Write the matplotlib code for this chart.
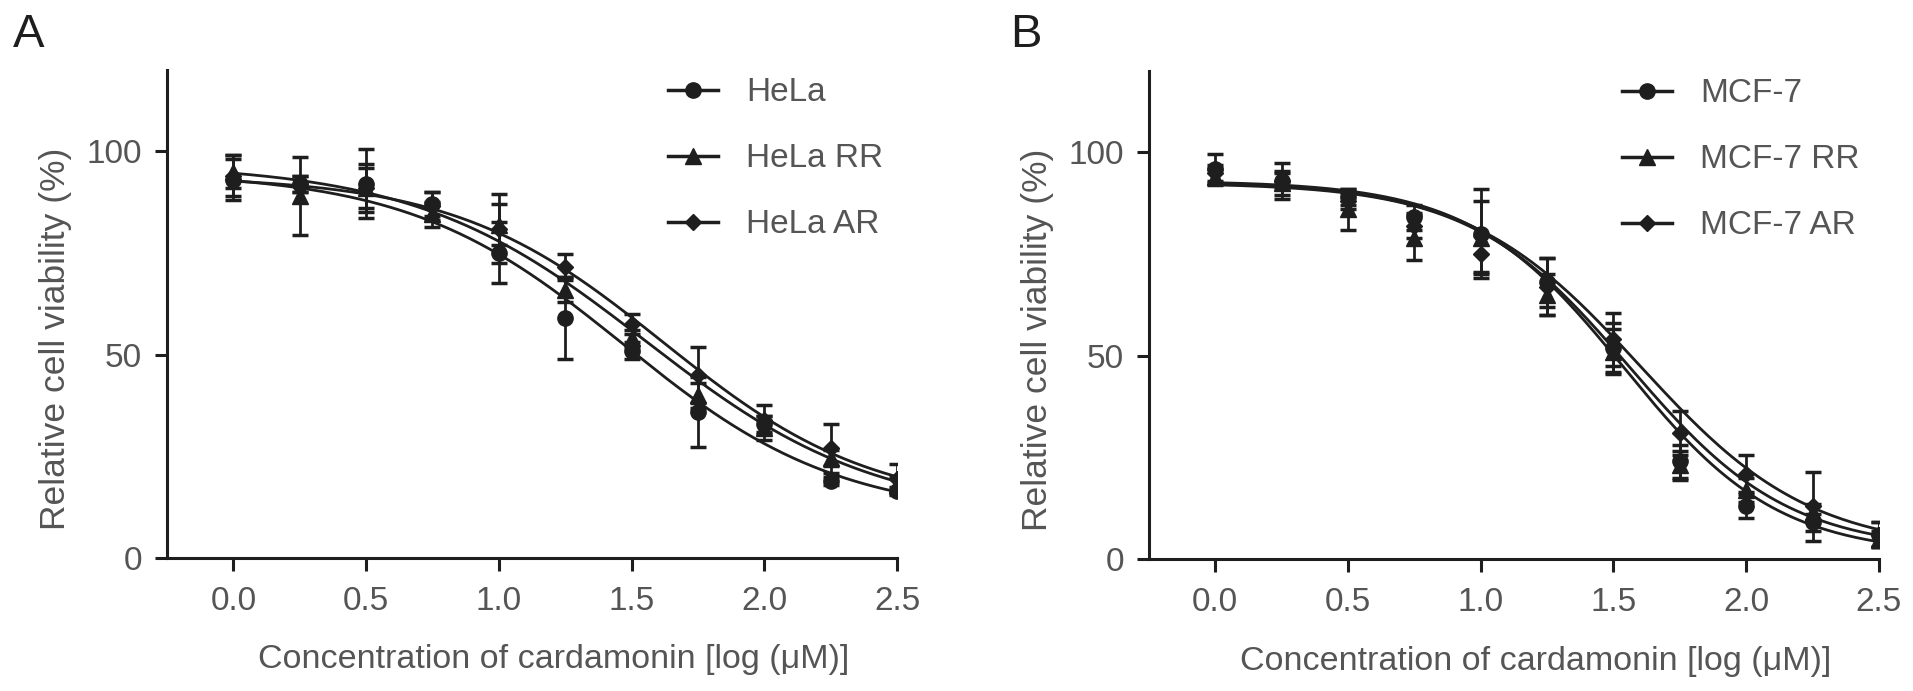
import numpy as np
import matplotlib
matplotlib.use("Agg")
import matplotlib.pyplot as plt

plt.rcParams['font.family'] = ['Liberation Sans', 'DejaVu Sans']

# log concentration of cardamonin
log_conc = [0.0, 0.25, 0.5, 0.75, 1.0, 1.25, 1.5, 1.75, 2.0, 2.25, 2.5]

# panel A - HeLa lines (mean, SD)
hela = [93, 92, 92, 87, 75, 59, 51, 36, 33, 19, 16.5]
hela_sd = [5, 2, 8.5, 3, 7.5, 10, 2, 8.6, 2, 1, 1]
hela_rr = [95, 89, 91, 84.5, 82, 66, 54, 40, 32, 24.5, 18]
hela_rr_sd = [4, 9.5, 5, 3, 5, 3, 2, 3, 3, 2, 2]
hela_ar = [94, 92, 91, 86.5, 81, 71.5, 57.5, 45, 34, 27, 19.5]
hela_ar_sd = [5, 2, 6, 3.5, 8.5, 3.2, 2.5, 7, 3.5, 6, 3.5]

# panel B - MCF-7 lines (mean, SD)
mcf7 = [96, 93, 89, 84, 80, 68, 52, 24, 13, 9, 6]
mcf7_sd = [3.5, 4.5, 2, 3, 11, 6, 6, 4, 3, 2, 3]
mcf7_rr = [94, 92.5, 86, 79, 79, 65, 51, 23, 17, 11.5, 5]
mcf7_rr_sd = [2, 3, 5, 5.5, 9, 5, 5.5, 3.5, 3, 2, 2]
mcf7_ar = [95, 93, 88, 82, 75, 67, 54, 31, 21, 13, 6]
mcf7_ar_sd = [2, 2, 2, 3, 4.5, 7, 6.5, 5.5, 4.5, 8.5, 3]

# fitted dose-response curves: top, bottom, logIC50, hill slope
hela_fit = [95, 10, 1.47, 1.07]
hela_rr_fit = [97, 10, 1.55, 1.0]
hela_ar_fit = [94, 12, 1.62, 1.1]
mcf7_fit = [93, 1, 1.54, 1.5]
mcf7_rr_fit = [92.5, 2, 1.56, 1.45]
mcf7_ar_fit = [93, 2, 1.60, 1.35]

ink = '#1e1e1e'
grey = '#555555'


def dose_curve(x, fit):
    top, bottom, ic50, hill = fit
    return bottom + (top - bottom) / (1 + 10 ** ((x - ic50) * hill))


def draw_panel(ax, names, means, sds, fits, legend_x):
    markers = ['o', '^', 'D']
    msizes = [11, 11, 8]
    xs = np.linspace(0, 2.5, 200)
    for name, m, sd, fit, mk, ms in zip(names, means, sds, fits, markers, msizes):
        ax.errorbar(log_conc, m, yerr=sd, fmt=mk, ms=ms, color=ink,
                    ecolor=ink, elinewidth=2, capsize=6, capthick=2.5, zorder=3)
        ax.plot(xs, dose_curve(xs, fit), color=ink, lw=2, zorder=2)
        # legend proxy
        ax.plot([], [], color=ink, lw=2.5, marker=mk, ms=ms, label=name)

    ax.set_xlim(-0.25, 2.5)
    ax.set_ylim(0, 120)
    ax.set_xticks([0, 0.5, 1.0, 1.5, 2.0, 2.5])
    ax.set_xticklabels(['0.0', '0.5', '1.0', '1.5', '2.0', '2.5'])
    ax.set_yticks([0, 50, 100])
    for s in ['top', 'right']:
        ax.spines[s].set_visible(False)
    for s in ['left', 'bottom']:
        ax.spines[s].set_linewidth(2.2)
        ax.spines[s].set_color(ink)
    ax.tick_params(direction='out', length=9, width=2.2, color=ink,
                   labelsize=24, labelcolor=grey, pad=9)
    ax.tick_params(axis='x', pad=11)
    ax.set_xlabel('Concentration of cardamonin [log (\u03bcM)]', fontsize=24.5,
                  color=grey, va='center')
    ax.xaxis.set_label_coords(0.53, -0.209)
    ax.set_ylabel('Relative cell viability (%)', fontsize=25.5, color=grey,
                  va='center')
    ax.yaxis.set_label_coords(-0.153, 0.45)
    ax.legend(loc='upper left', bbox_to_anchor=(legend_x, 0.985),
              frameon=False, fontsize=24, labelcolor=grey, handlelength=1.5,
              handletextpad=0.85, labelspacing=1.05, borderaxespad=0,
              borderpad=0)


fig = plt.figure(figsize=(19.13, 6.91), dpi=100)
axA = fig.add_axes([0.0873, 0.1925, 0.3816, 0.7062])
axB = fig.add_axes([0.6006, 0.1910, 0.3816, 0.7062])

draw_panel(axA, ['HeLa', 'HeLa RR', 'HeLa AR'],
           [hela, hela_rr, hela_ar], [hela_sd, hela_rr_sd, hela_ar_sd],
           [hela_fit, hela_rr_fit, hela_ar_fit], 0.686)
draw_panel(axB, ['MCF-7', 'MCF-7 RR', 'MCF-7 AR'],
           [mcf7, mcf7_rr, mcf7_ar], [mcf7_sd, mcf7_rr_sd, mcf7_ar_sd],
           [mcf7_fit, mcf7_rr_fit, mcf7_ar_fit], 0.648)

fig.text(0.007, 0.981, 'A', fontsize=34, color=ink, va='top', ha='left')
fig.text(0.528, 0.981, 'B', fontsize=34, color=ink, va='top', ha='left')

fig.savefig('out.png', dpi=100)
